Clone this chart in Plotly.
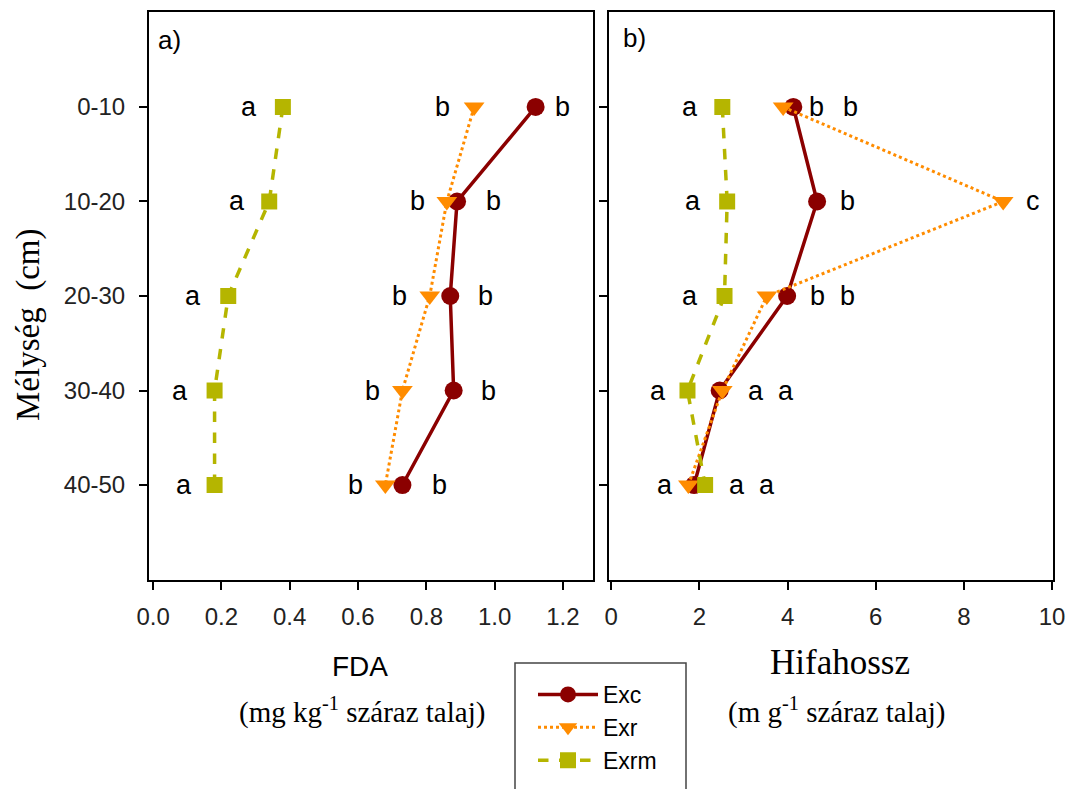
import plotly.graph_objects as go

depths = ["0-10", "10-20", "20-30", "30-40", "40-50"]
depth_idx = [0, 1, 2, 3, 4]

fda_exc = [1.12, 0.89, 0.87, 0.88, 0.73]
fda_exr = [0.94, 0.86, 0.81, 0.73, 0.68]
fda_exrm = [0.38, 0.34, 0.22, 0.18, 0.18]

hif_exc = [4.13, 4.67, 3.99, 2.46, 1.88]
hif_exr = [3.9, 8.89, 3.53, 2.52, 1.75]
hif_exrm = [2.52, 2.63, 2.57, 1.73, 2.13]

fda_ticks = [0.0, 0.2, 0.4, 0.6, 0.8, 1.0, 1.2]
fda_ticktext = ["0.0", "0.2", "0.4", "0.6", "0.8", "1.0", "1.2"]
hif_ticks = [0, 2, 4, 6, 8, 10]

# significance letters per depth (3 per row) and their label x-positions
fda_letters = [["a", "b", "b"], ["a", "b", "b"], ["a", "b", "b"], ["a", "b", "b"], ["a", "b", "b"]]
fda_letter_x = [[0.281, 0.846, 1.20], [0.246, 0.773, 0.998], [0.117, 0.720, 0.972],
                [0.079, 0.641, 0.981], [0.091, 0.594, 0.840]]
hif_letters = [["a", "b", "b"], ["a", "b", "c"], ["a", "b", "b"], ["a", "a", "a"], ["a", "a", "a"]]
hif_letter_x = [[1.79, 4.65, 5.42], [1.86, 5.35, 9.57], [1.79, 4.69, 5.37],
                [1.07, 3.29, 3.97], [1.22, 2.86, 3.54]]

C_EXC = "#8B0000"
C_EXR = "#FF8C00"
C_EXRM = "#B5B500"

SANS = "Liberation Sans, Arial"
SERIF = "Liberation Serif, Times New Roman"

fig = go.Figure()

def add_series(x, xa, ya, name, color, dash, symbol, size, width, show):
    fig.add_trace(go.Scatter(
        x=x, y=depth_idx, xaxis=xa, yaxis=ya, name=name, mode="lines+markers",
        line=dict(color=color, width=width, dash=dash),
        marker=dict(symbol=symbol, size=size, color=color),
        showlegend=show, legendgroup=name))

add_series(fda_exc, "x", "y", "Exc", C_EXC, "solid", "circle", 18, 3.5, True)
add_series(fda_exr, "x", "y", "Exr", C_EXR, "dot", "triangle-down", 18, 3, True)
add_series(fda_exrm, "x", "y", "Exrm", C_EXRM, "dash", "square", 16, 3.5, True)
add_series(hif_exc, "x2", "y2", "Exc", C_EXC, "solid", "circle", 18, 3.5, False)
add_series(hif_exr, "x2", "y2", "Exr", C_EXR, "dot", "triangle-down", 18, 3, False)
add_series(hif_exrm, "x2", "y2", "Exrm", C_EXRM, "dash", "square", 16, 3.5, False)

W, H = 1070, 789
def px(v):
    return v / W
def py(v):
    return 1 - v / H

ax_common = dict(showline=True, linecolor="black", linewidth=2, mirror=True,
                 ticks="outside", ticklen=8, tickwidth=1.5, tickcolor="black",
                 showgrid=False, zeroline=False, automargin=False,
                 tickfont=dict(family=SANS, size=24, color="#222"))

fig.update_layout(
    width=W, height=H, margin=dict(l=0, r=0, t=0, b=0, pad=0),
    plot_bgcolor="white", paper_bgcolor="white",
    xaxis=dict(domain=[px(149), px(593)], range=[-0.012, 1.288], tickvals=fda_ticks,
               ticktext=fda_ticktext, anchor="y", ticklabelstandoff=6, **ax_common),
    yaxis=dict(domain=[py(580), py(12)], range=[5.005, -1.005], tickvals=depth_idx,
               ticktext=depths, anchor="x", ticklabelstandoff=9, **ax_common),
    xaxis2=dict(domain=[px(609), px(1053)], range=[-0.05, 10.02], tickvals=hif_ticks,
                anchor="y2", ticklabelstandoff=6, **ax_common),
    yaxis2=dict(domain=[py(580), py(12)], range=[5.005, -1.005], tickvals=depth_idx,
                showticklabels=False, anchor="x2", **ax_common),
    legend=dict(x=px(533), y=py(673), xanchor="left", yanchor="top",
                font=dict(family=SANS, size=23, color="black"),
                bgcolor="rgba(0,0,0,0)", borderwidth=0, tracegroupgap=0,
                itemwidth=60),
    showlegend=True,
)

annots = []
letter_font = dict(family=SANS, size=27, color="black")
for i in range(5):
    for j in range(3):
        annots.append(dict(x=fda_letter_x[i][j], y=depth_idx[i], xref="x", yref="y",
                           text=fda_letters[i][j], showarrow=False, font=letter_font,
                           xanchor="center", yanchor="middle"))
        annots.append(dict(x=hif_letter_x[i][j], y=depth_idx[i], xref="x2", yref="y2",
                           text=hif_letters[i][j], showarrow=False, font=letter_font,
                           xanchor="center", yanchor="middle"))

def paper_text(x, y, text, font, xanchor="center", angle=0):
    return dict(x=px(x), y=py(y), xref="paper", yref="paper", text=text, showarrow=False,
                xanchor=xanchor, yanchor="middle", textangle=angle, font=font)

annots += [
    paper_text(156, 40, "a)", dict(family=SANS, size=26, color="black"), xanchor="left"),
    paper_text(621, 38, "b)", dict(family=SANS, size=26, color="black"), xanchor="left"),
    paper_text(28, 325, "Mélység  (cm)", dict(family=SERIF, size=33, color="black"), angle=-90),
    paper_text(360, 666, "FDA", dict(family=SANS, size=28, color="black")),
    paper_text(362, 710, "(mg kg<sup>-1</sup> száraz talaj)", dict(family=SERIF, size=29, color="black")),
    paper_text(840, 662, "Hifahossz", dict(family=SERIF, size=35, color="black")),
    paper_text(836, 710, "(m g<sup>-1</sup> száraz talaj)", dict(family=SERIF, size=29, color="black")),
]
fig.update_layout(annotations=annots)

fig.add_shape(type="rect", xref="paper", yref="paper", x0=px(515), x1=px(686),
              y0=py(800), y1=py(663), line=dict(color="#444", width=1.5))

fig.write_html("out.html")
